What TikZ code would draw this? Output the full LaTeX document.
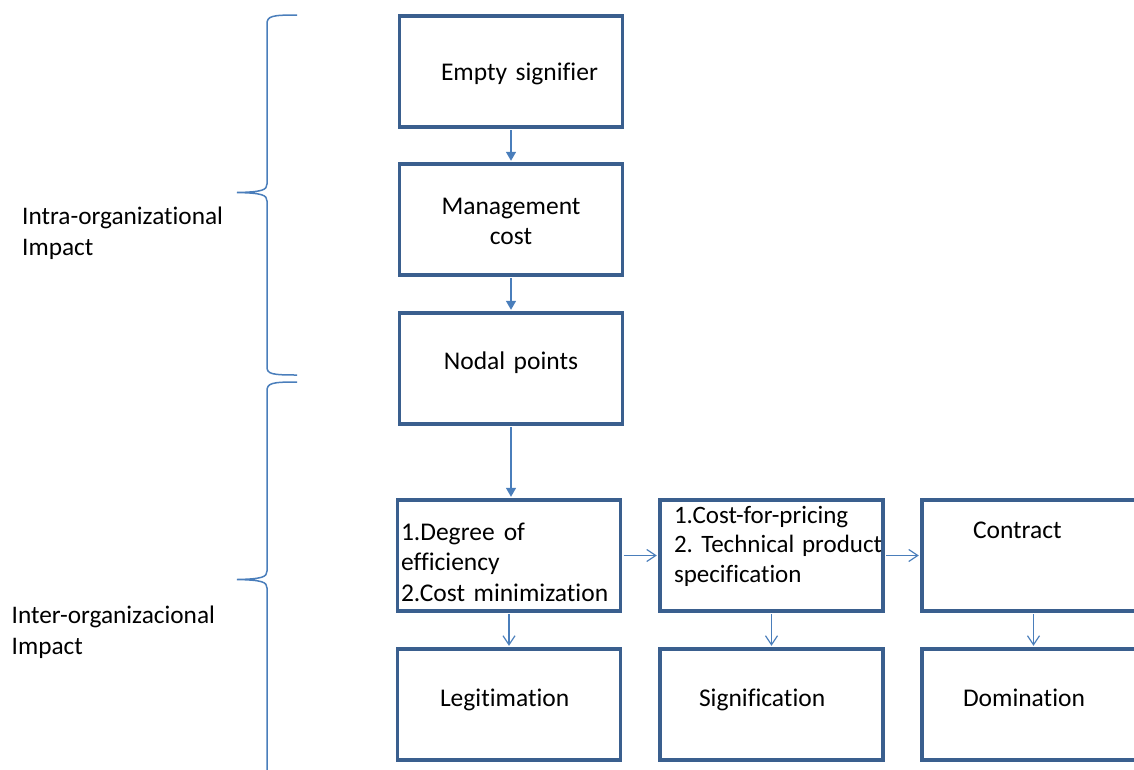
\documentclass[tikz,border=0pt]{standalone}
\usepackage{fontspec}
\setmainfont{Carlito}[Ligatures=NoCommon, WordSpace=0.85]
\usetikzlibrary{arrows.meta}
\definecolor{boxblue}{HTML}{3A5F8E}
\definecolor{lineblue}{HTML}{4A7EBB}
\begin{document}
\frenchspacing
\begin{tikzpicture}[x=1pt,y=-1pt,
  box/.style={draw=boxblue, line width=3.2pt, minimum width=223pt, minimum height=111pt,
    inner sep=0pt, font=\fontsize{25.5}{30.5}\selectfont},
  sidelabel/.style={inner sep=0pt, text width=220pt, align=left, anchor=base west,
    font=\fontsize{25.3}{31}\selectfont},
  fillarrow/.style={draw=lineblue, line width=1.4pt, shorten >=1.6pt, shorten <=1.6pt,
    -{Triangle[width=10pt,length=9pt]}},
  openarrow/.style={draw=lineblue, line width=1.2pt, shorten >=1.6pt, shorten <=1.6pt,
    -{Straight Barb[width=12pt,length=9pt]}},
  brace/.style={draw=lineblue, line width=1.5pt}
]
\useasboundingbox (0,0) rectangle (1134,769);
\clip (0,0) rectangle (1134,769);

% upper column
\node[box, text width=140pt, align=left, text height=17pt, text depth=0pt] (E) at (511,71.5) {\mbox{Empty signifier}};
\node[box, text width=200pt, align=center, text height=0pt, text depth=11pt] (M) at (511,219.5) {Management\\cost};
\node[box, text width=200pt, align=center, text height=1pt, text depth=0pt] (N) at (511,368.5) {Nodal points};

% middle row
\node[box, text width=216pt, align=left, text height=0pt, text depth=31pt] (b1) at (509,555.5)
  {\makebox[124pt][l]{1.Degree\hfill of}\\efficiency\\2.Cost minimization};
\node[box, text width=195pt, align=left, text height=0pt, text depth=65pt,
  font=\fontsize{25}{29.7}\selectfont] (b2) at (771.5,555.5)
  {1.Cost-for-pricing\\\makebox[208pt][l]{2. Technical\hfill product}\\specification};
\node[box, text width=121pt, align=left, text height=0pt, text depth=35pt] (b3) at (1033.5,555.5) {Contract};

% bottom row
\node[box, text width=138pt, align=left, text height=3pt, text depth=0pt] (leg) at (509,704.5) {\mbox{Legitimation}};
\node[box, text width=145pt, align=left, text height=3pt, text depth=0pt] (sig) at (771.5,704.5) {\mbox{Signification}};
\node[box, text width=141pt, align=left, text height=3pt, text depth=0pt] (dom) at (1033.5,704.5) {\mbox{Domination}};

% arrows
\draw[fillarrow] (E.south) -- (M.north);
\draw[fillarrow] (M.south) -- (N.north);
\draw[fillarrow] (N.south) -- (N.south |- b1.north);
\draw[openarrow] (b1.east) -- (b2.west);
\draw[openarrow] (b2.east) -- (b3.west);
\draw[openarrow] (b1.south) -- (leg.north);
\draw[openarrow] (b2.south) -- (sig.north);
\draw[openarrow] (b3.south) -- (dom.north);

% braces
\draw[brace] (297,15) .. controls (272,15) and (267,16) .. (267,24) -- (267,184)
  .. controls (267,190) and (262,192) .. (237,192.5)
  .. controls (262,193) and (267,195) .. (267,201) -- (267,367)
  .. controls (267,374) and (272,375) .. (297,375);
\draw[brace] (297,382) .. controls (272,382) and (267,383) .. (267,391) -- (267,571)
  .. controls (267,577) and (262,579) .. (237,579.5)
  .. controls (262,580) and (267,582) .. (267,588) -- (267,780);

% side labels
\node[sidelabel] (intra) at (22,224.5) {Intra-organizational\\Impact};
\node[sidelabel] (inter) at (11.5,623) {Inter-organizacional\\Impact};
\end{tikzpicture}
\end{document}
